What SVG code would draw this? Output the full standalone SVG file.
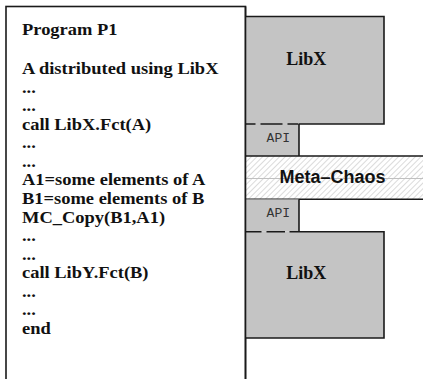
<svg xmlns="http://www.w3.org/2000/svg" width="423" height="379" viewBox="0 0 423 379">
<defs>
<pattern id="hatch" patternUnits="userSpaceOnUse" width="4" height="4" patternTransform="rotate(45)">
<rect width="4" height="4" fill="#ffffff"/>
<line x1="0" y1="0" x2="0" y2="4" stroke="#c4c4c4" stroke-width="1.2"/>
</pattern>
</defs>
<style>
.code{font-family:"Liberation Serif","Times New Roman",serif;font-weight:bold;font-size:16.5px;fill:#111}
.lib{font-family:"Liberation Serif","Times New Roman",serif;font-weight:bold;font-size:18px;fill:#111}
.api{font-family:"Liberation Mono","Courier New",monospace;font-size:13px;fill:#333}
.mc{font-family:"Liberation Sans",Arial,sans-serif;font-weight:bold;font-size:18px;fill:#111}
.box{fill:#c4c4c4;stroke:none}
.edge{stroke:#1a1a1a;stroke-width:1.6;fill:none}
</style>
<rect x="0" y="0" width="423" height="379" fill="#ffffff"/>
<g id="program">
<rect x="6" y="6.5" width="239.5" height="380" fill="#ffffff" stroke="#1a1a1a" stroke-width="1.6"/>
<g transform="translate(22 0) scale(1.12 1)">
<text class="code" x="0" y="35">Program P1</text>
<text class="code" x="0" y="74">A distributed using LibX</text>
<text class="code" x="0" y="92.6">...</text>
<text class="code" x="0" y="111.1">...</text>
<text class="code" x="0" y="129.7">call LibX.Fct(A)</text>
<text class="code" x="0" y="148.3">...</text>
<text class="code" x="0" y="166.9">...</text>
<text class="code" x="0" y="185.4">A1=some elements of A</text>
<text class="code" x="0" y="204">B1=some elements of B</text>
<text class="code" x="0" y="222.6">MC_Copy(B1,A1)</text>
<text class="code" x="0" y="241.1">...</text>
<text class="code" x="0" y="259.7">...</text>
<text class="code" x="0" y="278.3">call LibY.Fct(B)</text>
<text class="code" x="0" y="296.9">...</text>
<text class="code" x="0" y="315.4">...</text>
<text class="code" x="0" y="334">end</text>
</g>
</g>
<g id="libx-top">
<rect class="box" x="245.5" y="16.5" width="138.5" height="107.5"/>
<path class="edge" d="M245.5 16.5 H384 V124 H299"/>
<text class="lib" x="306.3" y="65" text-anchor="middle">LibX</text>
</g>
<g id="api-top">
<rect class="box" x="245.5" y="124" width="53.5" height="32"/>
<path class="edge" d="M299 124 V156"/>
<path class="edge" d="M246 124 H299" stroke-dasharray="9.5 5 22 5 11"/>
<text class="api" x="278.3" y="141.7" text-anchor="middle">API</text>
</g>
<g id="meta-chaos">
<rect x="245.5" y="156" width="180" height="43.3" fill="url(#hatch)"/>
<line x1="246" y1="178.5" x2="423" y2="178.5" stroke="#c0c0c0" stroke-width="1.2"/>
<path class="edge" d="M245.5 156 H424 M245.5 199.3 H424"/>
<text class="mc" x="332.5" y="182.7" text-anchor="middle">Meta–Chaos</text>
</g>
<g id="api-bottom">
<rect class="box" x="245.5" y="199.3" width="53.5" height="32.4"/>
<path class="edge" d="M299 199.3 V231.7"/>
<text class="api" x="278.3" y="217.3" text-anchor="middle">API</text>
</g>
<g id="libx-bottom">
<rect class="box" x="245.5" y="231.7" width="138.5" height="106.3"/>
<path class="edge" d="M299 231.7 H384 V338 H245.5"/>
<path class="edge" d="M246 231.7 H299" stroke-dasharray="15.5 5 18.5 4.5 11"/>
<text class="lib" x="306.3" y="279" text-anchor="middle">LibX</text>
</g>
<g id="connectors">
<line x1="245.5" y1="6.5" x2="245.5" y2="379" stroke="#1a1a1a" stroke-width="1.6"/>
</g>
</svg>
